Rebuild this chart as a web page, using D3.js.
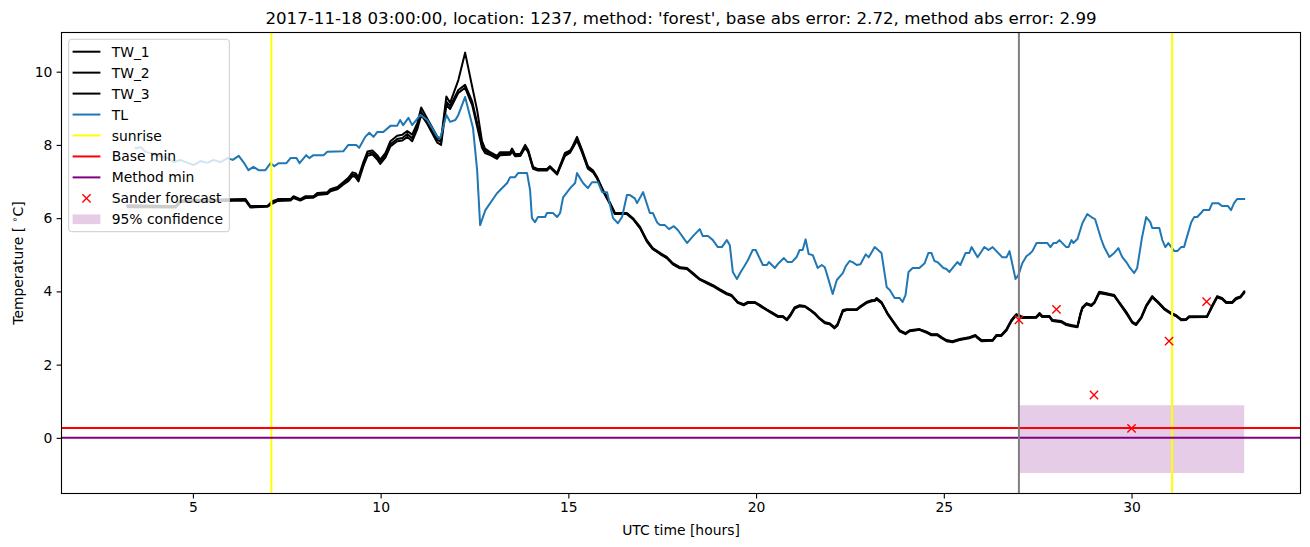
<!DOCTYPE html>
<html><head><meta charset="utf-8">
<script src="https://cdn.jsdelivr.net/npm/d3@7"></script>
<style>body{margin:0;background:#fff} svg{display:block} text{font-family:"DejaVu Sans",sans-serif;fill:#000}</style>
</head><body><svg id="c" width="1310" height="547"></svg>
<script>
const twHours=[3.26,4.54,4.67,6.40,6.53,6.99,7.12,7.26,7.60,7.68,7.86,8.00,8.21,8.32,8.58,8.66,8.85,9.01,9.14,9.25,9.33,9.41,9.54,9.65,9.78,9.91,9.99,10.13,10.26,10.44,10.58,10.71,10.84,10.98,11.08,11.24,11.51,11.61,11.75,11.85,12.07,12.25,12.44,12.57,12.70,12.78,12.92,13.10,13.18,13.45,13.50,13.58,13.72,13.85,13.93,14.06,14.19,14.43,14.51,14.70,14.91,15.05,15.12,15.23,15.36,15.52,15.66,15.76,15.92,16.11,16.24,16.56,16.72,16.91,17.09,17.25,17.44,17.62,17.78,17.97,18.16,18.32,18.50,18.69,18.85,19.03,19.22,19.35,19.51,19.67,19.78,19.96,20.10,20.28,20.42,20.58,20.71,20.82,20.90,21.03,21.16,21.30,21.43,21.56,21.69,21.83,21.96,22.09,22.17,22.31,22.41,22.68,22.78,22.94,23.08,23.16,23.21,23.34,23.50,23.69,23.82,23.98,24.09,24.35,24.56,24.67,24.83,24.94,25.07,25.23,25.42,25.68,25.84,25.90,26.00,26.30,26.40,26.53,26.67,26.80,26.93,27.01,27.09,27.46,27.55,27.62,27.81,27.89,28.13,28.26,28.40,28.56,28.64,28.69,28.80,28.93,29.01,29.14,29.27,29.54,29.67,29.86,30.02,30.12,30.26,30.39,30.55,30.71,30.87,31.06,31.19,31.32,31.45,31.53,32.01,32.15,32.28,32.41,32.52,32.68,32.78,32.90,33.00];
const tw1=[6.35,6.33,6.49,6.52,6.33,6.33,6.44,6.52,6.52,6.60,6.52,6.60,6.60,6.69,6.71,6.79,6.85,6.99,7.10,7.25,7.23,7.12,7.53,7.82,7.85,7.72,7.60,7.78,8.10,8.25,8.28,8.38,8.28,8.60,9.02,8.72,8.22,8.15,9.32,9.15,9.77,10.52,9.58,8.95,8.10,7.90,7.80,7.70,7.80,7.80,7.90,7.75,7.75,8.00,7.86,7.40,7.34,7.34,7.42,7.23,7.78,7.85,7.98,8.22,7.88,7.42,7.30,7.13,6.77,6.42,6.14,6.14,6.00,5.76,5.40,5.18,5.05,4.94,4.77,4.66,4.64,4.50,4.34,4.25,4.17,4.06,3.95,3.90,3.71,3.65,3.71,3.71,3.63,3.51,3.43,3.33,3.33,3.24,3.35,3.57,3.62,3.60,3.51,3.41,3.27,3.16,3.13,3.02,3.11,3.49,3.51,3.51,3.60,3.71,3.76,3.76,3.82,3.71,3.41,3.13,2.94,2.86,2.94,2.97,2.89,2.83,2.83,2.75,2.67,2.64,2.70,2.75,2.81,2.75,2.67,2.67,2.81,2.81,2.97,3.22,3.38,3.35,3.30,3.30,3.41,3.33,3.33,3.22,3.19,3.11,3.08,3.05,3.41,3.57,3.68,3.63,3.71,3.99,3.96,3.90,3.71,3.44,3.17,3.11,3.30,3.62,3.87,3.71,3.54,3.41,3.35,3.24,3.24,3.32,3.32,3.62,3.87,3.82,3.71,3.71,3.82,3.86,4.00];
const tw2=[6.33,6.31,6.47,6.50,6.31,6.33,6.47,6.50,6.50,6.58,6.50,6.58,6.58,6.66,6.69,6.76,6.82,6.95,7.05,7.20,7.17,7.06,7.47,7.76,7.79,7.66,7.53,7.72,8.02,8.16,8.19,8.30,8.18,8.50,8.90,8.64,8.14,8.08,9.18,9.06,9.50,9.64,9.18,8.60,7.98,7.84,7.76,7.66,7.76,7.76,7.86,7.72,7.72,7.96,7.83,7.37,7.32,7.32,7.40,7.21,7.74,7.82,7.95,8.17,7.84,7.38,7.27,7.11,6.76,6.40,6.13,6.12,5.99,5.74,5.38,5.16,5.04,4.92,4.76,4.65,4.62,4.49,4.33,4.23,4.16,4.05,3.94,3.88,3.70,3.64,3.69,3.70,3.62,3.50,3.42,3.31,3.32,3.23,3.33,3.55,3.61,3.59,3.50,3.40,3.26,3.15,3.11,3.01,3.09,3.47,3.50,3.50,3.58,3.70,3.75,3.75,3.80,3.70,3.39,3.12,2.93,2.85,2.92,2.96,2.88,2.82,2.82,2.73,2.66,2.63,2.68,2.74,2.79,2.74,2.66,2.66,2.79,2.80,2.95,3.20,3.36,3.34,3.29,3.29,3.39,3.32,3.32,3.21,3.18,3.10,3.06,3.04,3.38,3.55,3.66,3.62,3.69,3.97,3.95,3.88,3.70,3.42,3.16,3.10,3.28,3.60,3.85,3.70,3.52,3.40,3.33,3.23,3.23,3.30,3.31,3.60,3.85,3.80,3.70,3.70,3.80,3.85,3.98];
const tw3=[6.30,6.29,6.44,6.48,6.29,6.31,6.40,6.47,6.48,6.55,6.48,6.55,6.56,6.63,6.66,6.73,6.79,6.92,7.01,7.15,7.12,7.00,7.42,7.70,7.74,7.60,7.48,7.66,7.96,8.10,8.12,8.22,8.10,8.44,8.82,8.58,8.06,8.00,9.09,8.98,9.42,9.56,9.08,8.50,7.92,7.78,7.72,7.62,7.72,7.73,7.82,7.69,7.70,7.92,7.80,7.35,7.30,7.30,7.38,7.19,7.70,7.79,7.92,8.12,7.80,7.35,7.25,7.09,6.74,6.38,6.11,6.11,5.97,5.72,5.36,5.15,5.02,4.91,4.74,4.63,4.61,4.47,4.32,4.22,4.14,4.03,3.92,3.87,3.69,3.62,3.68,3.69,3.60,3.49,3.40,3.30,3.30,3.21,3.31,3.53,3.59,3.58,3.49,3.38,3.25,3.13,3.10,2.99,3.07,3.45,3.49,3.49,3.57,3.68,3.73,3.74,3.78,3.68,3.38,3.10,2.91,2.83,2.91,2.95,2.86,2.80,2.80,2.72,2.64,2.61,2.67,2.72,2.78,2.72,2.64,2.65,2.78,2.78,2.93,3.18,3.35,3.32,3.27,3.28,3.37,3.30,3.30,3.19,3.16,3.08,3.05,3.02,3.36,3.53,3.65,3.60,3.68,3.95,3.93,3.87,3.68,3.40,3.14,3.08,3.27,3.58,3.83,3.68,3.51,3.38,3.32,3.21,3.22,3.29,3.30,3.58,3.83,3.79,3.68,3.68,3.78,3.83,3.96];
const tlHours=[3.48,3.61,3.74,3.93,4.14,4.33,4.49,4.67,4.86,5.02,5.20,5.39,5.55,5.74,5.92,6.06,6.22,6.38,6.48,6.61,6.75,6.93,7.07,7.17,7.28,7.49,7.60,7.76,7.84,8.02,8.10,8.21,8.48,8.58,9.01,9.14,9.35,9.43,9.59,9.70,9.81,9.91,10.07,10.26,10.44,10.52,10.60,10.74,10.84,11.06,11.24,11.51,11.59,11.75,11.85,11.99,12.07,12.25,12.46,12.57,12.65,12.79,12.97,13.10,13.37,13.45,13.58,13.66,13.90,13.98,14.03,14.11,14.19,14.38,14.43,14.59,14.70,14.78,14.86,15.05,15.18,15.23,15.39,15.52,15.63,15.79,15.90,16.03,16.19,16.32,16.43,16.56,16.64,16.77,16.83,16.99,17.17,17.25,17.36,17.44,17.57,17.68,17.81,17.92,18.05,18.16,18.32,18.50,18.58,18.72,18.85,18.98,19.09,19.22,19.30,19.38,19.49,19.59,19.67,19.78,19.91,19.99,20.18,20.29,20.34,20.50,20.60,20.74,20.84,20.95,21.08,21.16,21.24,21.32,21.40,21.51,21.64,21.75,21.83,21.91,22.04,22.15,22.31,22.39,22.49,22.57,22.68,22.78,22.92,23.00,23.16,23.34,23.48,23.56,23.69,23.82,23.90,23.98,24.06,24.17,24.35,24.49,24.59,24.67,24.75,24.83,24.99,25.07,25.15,25.36,25.44,25.58,25.68,25.74,25.90,26.08,26.19,26.30,26.56,26.67,26.75,26.83,26.91,26.99,27.09,27.20,27.28,27.36,27.47,27.76,27.84,27.92,28.00,28.08,28.26,28.32,28.40,28.45,28.56,28.69,28.82,28.93,29.03,29.19,29.27,29.41,29.54,29.65,29.75,29.86,29.96,30.07,30.15,30.28,30.39,30.50,30.55,30.74,30.82,30.90,30.98,31.08,31.14,31.22,31.32,31.40,31.45,31.59,31.67,31.75,31.85,31.91,32.07,32.15,32.31,32.41,32.57,32.65,32.73,32.81,33.00];
const tlValues=[7.91,7.94,7.81,7.76,7.68,7.64,7.53,7.59,7.51,7.45,7.56,7.51,7.59,7.53,7.64,7.59,7.70,7.48,7.31,7.40,7.31,7.31,7.50,7.42,7.50,7.50,7.64,7.64,7.50,7.72,7.64,7.72,7.72,7.81,7.83,8.00,8.00,7.92,8.22,8.33,8.22,8.35,8.35,8.52,8.52,8.68,8.54,8.74,8.54,8.82,8.68,8.22,8.19,8.82,8.63,8.68,8.82,9.31,8.46,7.31,5.81,6.22,6.49,6.68,6.96,7.12,7.12,7.23,7.23,6.77,6.00,5.89,6.03,6.03,6.14,6.14,6.03,6.14,6.57,6.82,6.96,7.23,6.96,6.82,6.98,6.98,6.71,6.71,6.00,5.86,6.03,6.63,6.63,6.54,6.41,6.71,6.14,6.14,5.89,5.81,5.81,5.70,5.78,5.67,5.48,5.32,5.51,5.70,5.51,5.51,5.40,5.21,5.21,5.40,5.26,4.53,4.34,4.53,4.66,4.85,5.13,5.13,4.72,4.72,4.80,4.64,4.77,4.91,4.80,4.80,4.94,5.13,5.13,5.42,5.02,4.99,4.64,4.72,4.66,4.39,3.93,4.31,4.50,4.69,4.83,4.80,4.72,4.74,5.01,4.93,5.21,5.05,4.11,4.04,3.82,3.82,3.71,3.90,4.53,4.64,4.64,4.77,5.05,5.05,4.83,4.80,4.64,4.61,4.53,4.80,4.72,5.05,5.05,5.21,4.93,5.21,5.13,5.21,4.93,4.93,5.10,4.72,4.34,4.45,4.77,4.96,5.02,5.10,5.32,5.32,5.21,5.32,5.32,5.40,5.21,5.21,5.40,5.32,5.43,5.86,6.11,6.03,5.97,5.43,5.21,4.94,5.05,5.18,4.94,4.80,4.64,4.50,4.64,5.48,6.03,5.89,5.73,5.73,5.40,5.21,5.32,5.18,5.10,5.10,5.21,5.21,5.40,5.89,6.03,6.03,6.14,6.22,6.22,6.41,6.41,6.33,6.33,6.22,6.41,6.52,6.52];
const sunriseHours=[7.09,31.08];
const forecastStartHours=[27];
const baseMin=[0.27];
const methodMin=[0.0];
const sanderHours=[27,28,29,30,31,32];
const sanderValues=[3.22,3.51,1.17,0.26,2.64,3.72];
const confHours=[27,33];
const confLow=[-0.96,-0.96];
const confHigh=[0.89,0.89];
const xTicks=[5,10,15,20,25,30];
const yTicks=[0,2,4,6,8,10];
const xDomain=[1.5,34.5];
const yDomain=[-1.52,11.07];
const legendLabels=["TW_1","TW_2","TW_3","TL","sunrise","Base min","Method min","Sander forecast","95% confidence"];
const titleText="2017-11-18 03:00:00, location: 1237, method: 'forest', base abs error: 2.72, method abs error: 2.99";

const L=61.5,R=1300.5,T=32.5,B=493.5;
const svg=d3.select("#c");
const x=d3.scaleLinear().domain(xDomain).range([L,R]);
const y=d3.scaleLinear().domain(yDomain).range([B,T]);
svg.append("defs").append("clipPath").attr("id","clip").append("rect").attr("x",L).attr("y",T).attr("width",R-L).attr("height",B-T);
const g=svg.append("g").attr("clip-path","url(#clip)");

// confidence band
const conf=confHours.map((h,i)=>({h,lo:confLow[i],hi:confHigh[i]}));
g.append("path").datum(conf).attr("d",d3.area().x(d=>x(d.h)).y0(d=>y(d.lo)).y1(d=>y(d.hi)))
 .attr("fill","purple").attr("fill-opacity",0.2);

const line=d3.line().x(d=>x(d[0])).y(d=>y(d[1]));
[tw1,tw2,tw3].forEach(vals=>{
  g.append("path").datum(twHours.map((h,i)=>[h,vals[i]])).attr("d",line)
   .attr("fill","none").attr("stroke","#000").attr("stroke-width",2).attr("stroke-linejoin","round").attr("stroke-linecap","square");
});
g.append("path").datum(tlHours.map((h,i)=>[h,tlValues[i]])).attr("d",line)
 .attr("fill","none").attr("stroke","#1f77b4").attr("stroke-width",2).attr("stroke-linejoin","round").attr("stroke-linecap","square");

sunriseHours.forEach(h=>{
  g.append("line").attr("x1",x(h)).attr("x2",x(h)).attr("y1",T).attr("y2",B).attr("stroke","yellow").attr("stroke-width",2);
});
g.append("line").attr("x1",L).attr("x2",R).attr("y1",y(baseMin[0])).attr("y2",y(baseMin[0])).attr("stroke","red").attr("stroke-width",2);
g.append("line").attr("x1",L).attr("x2",R).attr("y1",y(methodMin[0])).attr("y2",y(methodMin[0])).attr("stroke","purple").attr("stroke-width",2);
forecastStartHours.forEach(h=>{
  g.append("line").attr("x1",x(h)).attr("x2",x(h)).attr("y1",T).attr("y2",B).attr("stroke","gray").attr("stroke-width",2);
});
function xMarker(sel,cx,cy){
  const s=4.15;
  sel.append("path").attr("d",`M${cx-s},${cy-s}L${cx+s},${cy+s}M${cx-s},${cy+s}L${cx+s},${cy-s}`)
   .attr("stroke","red").attr("stroke-width",1.4).attr("fill","none");
}
sanderHours.forEach((h,i)=>xMarker(g,x(h),y(sanderValues[i])));

// axes
const ax=svg.append("g").attr("transform",`translate(0,${B})`).call(d3.axisBottom(x).tickValues(xTicks).tickSize(4.9).tickPadding(4.2).tickFormat(d3.format("d")));
const ay=svg.append("g").attr("transform",`translate(${L},0)`).call(d3.axisLeft(y).tickValues(yTicks).tickSize(4.9).tickPadding(4.2).tickFormat(d3.format("d")));
[ax,ay].forEach(a=>{a.select(".domain").remove();a.selectAll("line").attr("stroke","#000").attr("stroke-width",1.1);a.selectAll("text").attr("font-size","13.9px").attr("font-family","DejaVu Sans").attr("fill","#000");});
svg.append("rect").attr("x",L).attr("y",T).attr("width",R-L).attr("height",B-T).attr("fill","none").attr("stroke","#000").attr("stroke-width",1.1);

// labels
svg.append("text").attr("x",(L+R)/2).attr("y",23.7).attr("text-anchor","middle").attr("font-size","16.67px").text(titleText);
svg.append("text").attr("x",(L+R)/2).attr("y",535).attr("text-anchor","middle").attr("font-size","13.9px").text("UTC time [hours]");
const yl=svg.append("text").attr("transform",`translate(23,${(T+B)/2}) rotate(-90)`).attr("text-anchor","middle").attr("font-size","13.9px");
yl.append("tspan").text("Temperature [ ");
yl.append("tspan").attr("font-size","9.7px").attr("dy","-5").text("∘");
yl.append("tspan").attr("dy","5").text("C]");

// legend
const lg=svg.append("g");
lg.append("rect").attr("x",68.7).attr("y",39.3).attr("width",160.6).attr("height",192.4).attr("rx",2.8)
 .attr("fill","#fff").attr("fill-opacity",0.8).attr("stroke","#cccccc").attr("stroke-width",1);
const lcolors=["#000","#000","#000","#1f77b4","yellow","red","purple",null,null];
legendLabels.forEach((lab,i)=>{
  const cy=51.7+i*20.95;
  if(i<7){
    lg.append("line").attr("x1",72.6).attr("x2",100.4).attr("y1",cy).attr("y2",cy).attr("stroke",lcolors[i]).attr("stroke-width",2);
  } else if(i===7){
    xMarker(lg,86.5,cy);
  } else {
    lg.append("rect").attr("x",72.6).attr("y",cy-4.9).attr("width",27.8).attr("height",9.7).attr("fill","purple").attr("fill-opacity",0.2);
  }
  lg.append("text").attr("x",111.7).attr("y",cy).attr("dy","0.36em").attr("font-size","13.9px").text(lab);
});
</script></body></html>
